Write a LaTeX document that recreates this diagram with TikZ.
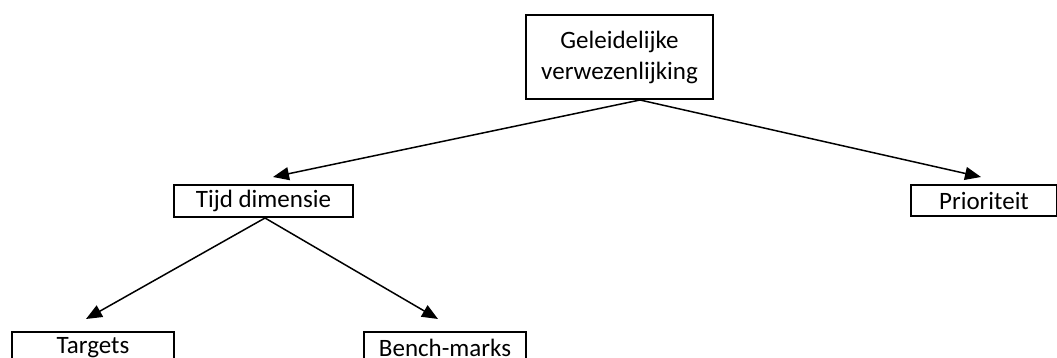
\documentclass[tikz,border=0pt]{standalone}
\usepackage{fontspec}
\setmainfont{Carlito}
\usetikzlibrary{arrows.meta}
\begin{document}
\begin{tikzpicture}[x=1pt,y=-1pt,
  box/.style={draw,line width=2pt,inner sep=0pt,font=\fontsize{25}{31}\selectfont,align=center},
  arr/.style={line width=1.5pt,-{Triangle[length=16pt,width=13pt]}}]
\useasboundingbox (0,0) rectangle (1057,358);
\node[box,minimum width=187pt,minimum height=84pt] (top) at (619.5,57) {Geleidelijke\\verwezenlijking};
\node[box,minimum width=179pt,minimum height=32pt] (tijd) at (263.5,201) {Tijd dimensie};
\node[box,minimum width=146pt,minimum height=31pt] (prio) at (984,200.5) {Prioriteit};
\node[box,minimum width=162pt,minimum height=32pt] (targ) at (93,348) {Targets};
\node[box,minimum width=162pt,minimum height=32pt] (bench) at (445,348) {Bench-marks};
\coordinate (topapex) at (640,100);
\coordinate (tijdapex) at (265,218);
\coordinate (tijdtip) at (273,177);
\coordinate (priotip) at (981,177);
\coordinate (targtip) at (86,319);
\coordinate (benchtip) at (438,319);
\draw[arr] (topapex) -- (tijdtip);
\draw[arr] (topapex) -- (priotip);
\draw[arr] (tijdapex) -- (targtip);
\draw[arr] (tijdapex) -- (benchtip);
\end{tikzpicture}
\end{document}
